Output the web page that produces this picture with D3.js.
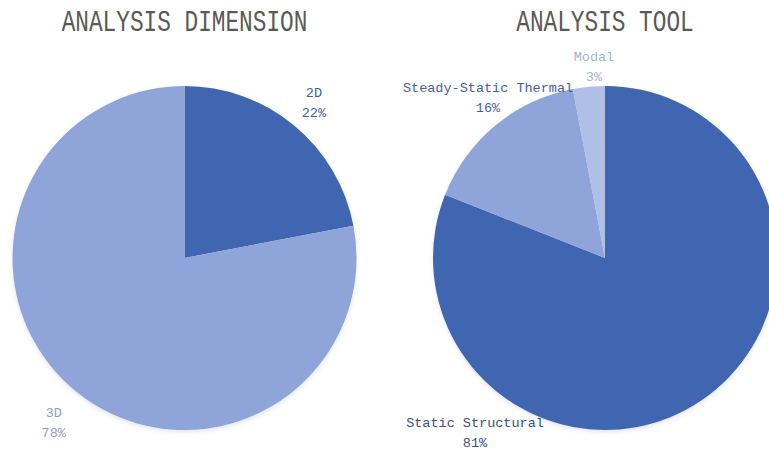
<!DOCTYPE html>
<html>
<head>
<meta charset="utf-8">
<script src="https://cdn.jsdelivr.net/npm/d3@7"></script>
<style>
  html, body { margin: 0; padding: 0; background: #ffffff; }
  svg { display: block; }
</style>
</head>
<body>
<svg id="chart" width="769" height="452"></svg>
<script>
// Share of studies by analysis dimension
const dimensionCategories = ["2D", "3D"];
const dimensionValues = [22, 78];

// Share of studies by analysis tool
const toolCategories = ["Static Structural", "Steady-Static Thermal", "Modal"];
const toolValues = [81, 16, 3];

const titles = ["ANALYSIS DIMENSION", "ANALYSIS TOOL"];

const W = 769, H = 452;
const svg = d3.select("#chart");

const defs = svg.append("defs");
const shadow = defs.append("filter").attr("id", "soft")
  .attr("x", "-20%").attr("y", "-20%").attr("width", "140%").attr("height", "140%");
shadow.append("feDropShadow").attr("dx", 0).attr("dy", 2)
  .attr("stdDeviation", 2).attr("flood-color", "#6070a0").attr("flood-opacity", 0.18);

const radius = 172;
const pieLayout = d3.pie().sort(null).value(d => d.value);
const arc = d3.arc().innerRadius(0).outerRadius(radius);

// Each panel: centre, slice colours, label colours and label placement (angle in degrees clockwise from top, distance from centre)
const panels = [
  {
    cx: 184.5, cy: 258,
    title: titles[0],
    cats: dimensionCategories, vals: dimensionValues,
    fills: ["#3f66b2", "#8fa5d9"],
    textColors: ["#3d5ea8", "#8b9dd0"],
    place: [{ a: 39.6, r: 203 }, { a: 218.5, r: 210 }]
  },
  {
    cx: 605, cy: 258,
    title: titles[1],
    cats: toolCategories, vals: toolValues,
    fills: ["#3f66b2", "#8fa5d9", "#afbfe6"],
    textColors: ["#3b5186", "#4560a8", "#a3b2da"],
    place: [{ a: 216.8, r: 217 }, { a: 324, r: 199 }, { a: 356.7, r: 192 }]
  }
];

panels.forEach(p => {
  const data = p.cats.map((c, i) => ({ cat: c, value: p.vals[i] }));
  const slices = pieLayout(data);

  const g = svg.append("g").attr("transform", `translate(${p.cx},${p.cy})`);

  g.append("g").attr("filter", "url(#soft)")
    .selectAll("path")
    .data(slices)
    .join("path")
    .attr("d", arc)
    .attr("fill", (d, i) => p.fills[i]);

  // Category name and percentage, placed around the pie
  const total = d3.sum(p.vals);
  const lab = g.selectAll("g.label")
    .data(slices)
    .join("g")
    .attr("class", "label")
    .attr("transform", (d, i) => {
      const ang = p.place[i].a * Math.PI / 180;
      const rr = p.place[i].r;
      return `translate(${rr * Math.sin(ang)},${-rr * Math.cos(ang)})`;
    })
    .attr("fill", (d, i) => p.textColors[i])
    .style("font-family", "'Liberation Mono', 'DejaVu Sans Mono', monospace")
    .style("font-size", "13.5px")
    .attr("text-anchor", "middle");

  lab.append("text")
    .attr("y", -5)
    .text(d => d.data.cat);
  lab.append("text")
    .attr("y", 15)
    .text(d => Math.round(d.data.value / total * 100) + "%");

  // Panel title
  const tw = p.title.length * 13.65;
  svg.append("text")
    .attr("x", p.cx)
    .attr("y", 31)
    .attr("text-anchor", "middle")
    .attr("textLength", tw)
    .attr("lengthAdjust", "spacingAndGlyphs")
    .attr("fill", "#595959")
    .style("font-family", "'Liberation Mono', 'DejaVu Sans Mono', monospace")
    .style("font-size", "29px")
    .text(p.title);
});
</script>
</body>
</html>
